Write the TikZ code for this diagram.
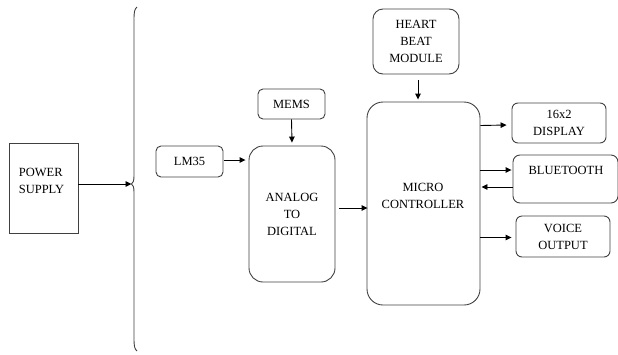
\documentclass[tikz,border=0pt]{standalone}
\usepackage{fontspec}
\setmainfont{Liberation Serif}
\usetikzlibrary{arrows.meta}
\tikzset{
  blk/.style={draw=black!75, line width=0.9pt, inner sep=0pt, align=center,
    font=\fontsize{12.5}{17}\selectfont, text=black},
  rblk/.style={blk, rounded corners=#1},
  arr/.style={draw=black, line width=0.9pt, -{Triangle[length=6pt,width=5.5pt]}},
  brace/.style={draw=black!75, line width=0.9pt}
}
\begin{document}
\begin{tikzpicture}[x=1pt,y=-1pt]
\useasboundingbox (0,0) rectangle (618,354);
% boxes
\node[blk, minimum width=69pt, minimum height=90pt] (pw) at (43.5,188) {};
\node[font=\fontsize{12.5}{17}\selectfont, align=left, inner sep=0pt] (pwt) at (41.5,181) {POWER\\SUPPLY};
\node[rblk=5pt, minimum width=67pt, minimum height=31pt] (lm) at (189.5,161.5) {LM35};
\node[rblk=5pt, minimum width=67pt, minimum height=30pt] (mems) at (291.5,104) {MEMS};
\node[rblk=14pt, minimum width=86pt, minimum height=136pt] (adc) at (292,214) {ANALOG\\TO\\DIGITAL};
\node[rblk=16pt, minimum width=113pt, minimum height=203pt] (mc) at (423.5,203.5) {};
\node[font=\fontsize{12.5}{17}\selectfont, align=center, inner sep=0pt] (mct) at (423,196) {MICRO\\CONTROLLER};
\node[rblk=10pt, minimum width=86pt, minimum height=65pt] (hb) at (416,41.5) {HEART\\BEAT\\MODULE};
\node[rblk=6pt, minimum width=94pt, minimum height=40pt] (disp) at (559,123) {16x2\\DISPLAY};
\node[rblk=7pt, minimum width=105pt, minimum height=48pt] (bt) at (565.5,179) {};
\node[font=\fontsize{12.5}{17}\selectfont, inner sep=0pt] (btt) at (566,170) {BLUETOOTH};
\node[rblk=6pt, minimum width=94pt, minimum height=41pt] (voice) at (563,236.5) {VOICE\\OUTPUT};
% brace
\coordinate (tip) at (131.5,184);
\draw[brace] (137,7) .. controls (134.5,9) and (134,12) .. (134,20) -- (134,176)
  .. controls (134,181) and (133,183) .. (tip)
  .. controls (133,185) and (134,187) .. (134,192) -- (134,338)
  .. controls (134,346) and (134.5,349) .. (137,351);
% connectors
\draw[arr] ([yshift=4pt]pw.east) -- (tip);
\draw[arr] ([xshift=1pt,yshift=1.5pt]lm.east) -- ([xshift=-3pt,yshift=54pt]adc.west);
\draw[arr] (mems.south) -- ([yshift=3pt]adc.north);
\draw[arr] ([xshift=4pt,yshift=6pt]adc.east) -- ([xshift=1pt,yshift=6pt]adc.east -| mc.west);
\draw[arr] ([xshift=2pt,yshift=-6pt]hb.south) -- ([xshift=-5.5pt,yshift=2pt]mc.north);
\draw[arr] ([yshift=78pt]mc.east) -- ([xshift=-5pt,yshift=-2pt]disp.west);
\draw[arr] ([yshift=33.5pt]mc.east) -- ([xshift=-1pt,yshift=9pt]bt.west);
\draw[arr] ([yshift=-8pt]bt.west) -- ([xshift=1pt,yshift=16.5pt]mc.east);
\draw[arr] ([yshift=-34pt]mc.east) -- ([xshift=-4pt,yshift=-1pt]voice.west);
\end{tikzpicture}
\end{document}
